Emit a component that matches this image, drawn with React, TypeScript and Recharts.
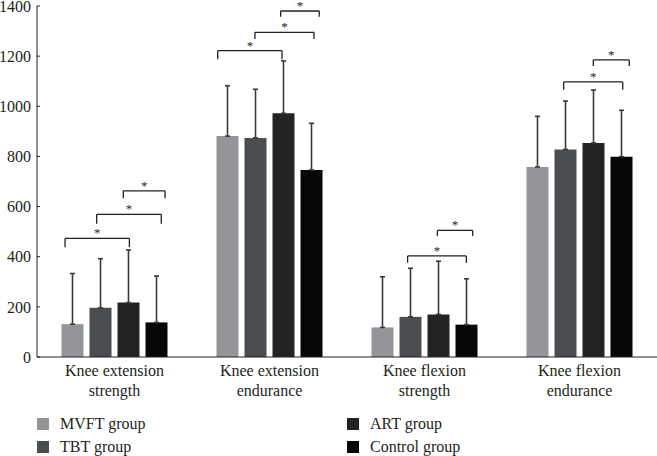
import { Bar, BarChart, ErrorBar, Legend, ReferenceLine, XAxis, YAxis } from "recharts";

const CATEGORIES = [
  "Knee extension strength",
  "Knee extension endurance",
  "Knee flexion strength",
  "Knee flexion endurance",
];
const GROUPS = ["MVFT group", "TBT group", "ART group", "Control group"];
const COLORS = ["#939598", "#4b4e51", "#232324", "#060606"];

const MVFT = [131, 881, 118, 758];
const MVFT_SD = [202, 201, 202, 202];
const TBT = [196, 874, 160, 828];
const TBT_SD = [196, 194, 194, 193];
const ART = [217, 972, 170, 854];
const ART_SD = [210, 209, 212, 211];
const CONTROL = [138, 746, 129, 799];
const CONTROL_SD = [185, 186, 183, 185];

const Y_TICKS = [0, 200, 400, 600, 800, 1000, 1200, 1400];

// significance brackets, x in "category units" (0..4), y in data units
const BR_FROM = [0.181, 0.385, 0.557, 1.166, 1.406, 1.572, 2.391, 2.583, 3.398, 3.589];
const BR_TO = [0.596, 0.802, 0.826, 1.581, 1.787, 1.821, 2.77, 2.811, 3.779, 3.821];
const BR_LEVEL = [473, 569, 663, 1222, 1295, 1380, 403, 505, 1097, 1185];
const BR_FOOT = [438, 531, 633, 1188, 1268, 1357, 376, 483, 1066, 1161];

const INK = "#231f20";
const FONT = "'Liberation Serif', 'DejaVu Serif', serif";

const data = CATEGORIES.map((name, i) => ({
  name,
  u: i + 0.5,
  mvft: MVFT[i],
  mvftErr: [0, MVFT_SD[i]],
  tbt: TBT[i],
  tbtErr: [0, TBT_SD[i]],
  art: ART[i],
  artErr: [0, ART_SD[i]],
  control: CONTROL[i],
  controlErr: [0, CONTROL_SD[i]],
}));

const KEYS = ["mvft", "tbt", "art", "control"];

function CatTick(props: any) {
  const { x, y, payload } = props;
  const s: string = payload.value;
  const cut = s.lastIndexOf(" ");
  return (
    <text x={x} y={y} textAnchor="middle" fill={INK} fontSize={16} fontFamily={FONT}>
      <tspan x={x} dy={11}>{s.slice(0, cut)}</tspan>
      <tspan x={x} dy={20}>{s.slice(cut + 1)}</tspan>
    </text>
  );
}

function LegendBox(props: any) {
  const items = props.payload || [];
  return (
    <div style={{ position: "relative", height: 40, fontFamily: FONT, fontSize: 16, color: INK }}>
      {items.map((it: any) => {
        const i = GROUPS.indexOf(it.value);
        return (
          <div
            key={it.value}
            style={{
              position: "absolute",
              left: i < 2 ? 37 : 347,
              top: (i % 2) * 22.5,
              display: "flex",
              alignItems: "center",
              whiteSpace: "nowrap",
            }}
          >
            <span style={{ width: 12, height: 12, background: it.color, marginRight: 11 }} />
            <span>{it.value}</span>
          </div>
        );
      })}
    </div>
  );
}

export default function App() {
  return (
    <div style={{ position: "absolute", left: 0, top: 0, width: 657, height: 456, background: "#fff" }}>
      <BarChart
        width={657}
        height={456}
        data={data}
        margin={{ top: 6, right: 0, left: 0, bottom: 49 }}
        barCategoryGap={24.5}
        barGap={6}
        style={{ fontFamily: FONT }}
      >
        <XAxis
          dataKey="name"
          tick={<CatTick />}
          tickLine={false}
          axisLine={{ stroke: INK, strokeWidth: 1 }}
          height={50}
          interval={0}
        />
        <XAxis xAxisId="u" dataKey="u" type="number" domain={[0, 4]} allowDataOverflow hide />
        <YAxis
          domain={[0, 1400]}
          ticks={Y_TICKS}
          width={37}
          tickSize={-3}
          tickMargin={9}
          axisLine={{ stroke: INK, strokeWidth: 1 }}
          tickLine={{ stroke: INK }}
          tick={{ fill: INK, fontSize: 16, fontFamily: FONT }}
          interval={0}
        />
        <Legend
          verticalAlign="middle"
          wrapperStyle={{ position: "absolute", left: 0, top: 415, width: 657 }}
          content={<LegendBox />}
        />
        {KEYS.map((k, i) => (
          <Bar key={k} dataKey={k} name={GROUPS[i]} fill={COLORS[i]} isAnimationActive={false}>
            <ErrorBar
              dataKey={k + "Err"}
              width={2.5}
              stroke="#3a3a3a"
              strokeWidth={1.6}
              direction="y"
            />
          </Bar>
        ))}
        {BR_FROM.map((a, i) => (
          <ReferenceLine
            key={"h" + i}
            xAxisId="u"
            ifOverflow="visible"
            segment={[
              { x: a, y: BR_LEVEL[i] },
              { x: BR_TO[i], y: BR_LEVEL[i] },
            ]}
            stroke={INK}
            strokeWidth={1.3}
            label={{ value: "*", position: "top", offset: 1, fill: INK, fontSize: 13, fontFamily: FONT }}
          />
        ))}
        {BR_FROM.map((a, i) => (
          <ReferenceLine
            key={"l" + i}
            xAxisId="u"
            ifOverflow="visible"
            segment={[
              { x: a, y: BR_LEVEL[i] },
              { x: a, y: BR_FOOT[i] },
            ]}
            stroke={INK}
            strokeWidth={1.3}
          />
        ))}
        {BR_TO.map((b, i) => (
          <ReferenceLine
            key={"r" + i}
            xAxisId="u"
            ifOverflow="visible"
            segment={[
              { x: b, y: BR_LEVEL[i] },
              { x: b, y: BR_FOOT[i] },
            ]}
            stroke={INK}
            strokeWidth={1.3}
          />
        ))}
      </BarChart>
    </div>
  );
}
